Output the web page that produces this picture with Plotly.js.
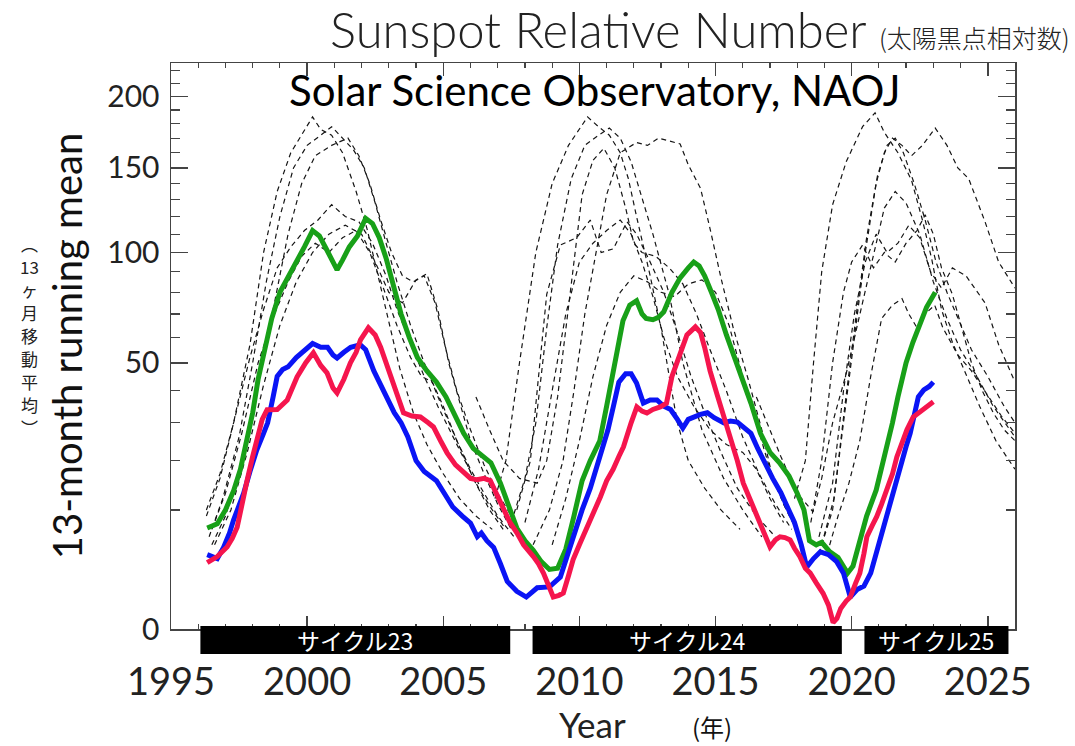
<!DOCTYPE html>
<html><head><meta charset="utf-8">
<script src="https://cdn.plot.ly/plotly-3.0.1.min.js"></script>
<style>html,body{margin:0;padding:0;background:#fff}</style>
</head><body><div id="chart" style="width:1075px;height:746px"></div>
<script>
// ---------- data (13-month running mean sunspot number) ----------
const greenTotal = [[1996.33,7.2],[1996.7,7.8],[1997.0,10],[1997.3,13.5],[1997.55,18],[1997.8,26],[1998.0,33],[1998.2,44],[1998.45,56],[1998.7,68],[1999.0,80],[1999.3,87],[1999.6,95],[1999.9,103],[2000.2,112],[2000.45,109],[2000.7,102],[2000.9,96],[2001.1,91],[2001.3,96],[2001.55,103],[2001.85,109],[2002.15,119],[2002.4,116],[2002.65,108],[2002.9,97],[2003.15,85],[2003.45,70],[2003.75,60],[2004.05,52],[2004.4,47],[2004.75,43],[2005.1,38],[2005.4,33],[2005.75,27],[2006.1,23],[2006.4,21.5],[2006.75,19.5],[2007.1,15],[2007.4,11],[2007.7,7.2],[2008.0,5.5],[2008.3,4.4],[2008.6,3.2],[2008.9,2.5],[2009.2,2.6],[2009.5,4.5],[2009.8,9],[2010.1,15.5],[2010.4,20],[2010.75,25],[2011.0,35],[2011.25,46],[2011.45,58],[2011.6,67],[2011.85,74],[2012.1,76],[2012.3,70],[2012.45,68],[2012.7,67.5],[2012.9,68.5],[2013.1,71],[2013.4,80],[2013.7,87],[2014.0,92],[2014.2,95],[2014.4,93],[2014.6,88],[2014.85,80],[2015.1,72],[2015.4,61],[2015.7,52],[2016.0,44],[2016.3,36],[2016.65,27],[2017.0,22],[2017.35,19.5],[2017.7,16.5],[2018.0,13],[2018.25,10],[2018.45,5.5],[2018.7,5.0],[2018.9,5.3],[2019.2,4.2],[2019.5,3.6],[2019.85,2.2],[2020.05,2.8],[2020.3,5.5],[2020.55,9],[2020.9,13.6],[2021.25,22],[2021.5,30],[2021.7,38],[2022.0,50],[2022.25,58],[2022.5,66],[2022.75,73],[2023.07,80]];
const blueNorth = [[1996.33,3.9],[1996.7,3.5],[1996.93,4.7],[1997.15,6.5],[1997.3,8.4],[1997.5,10.5],[1997.67,13],[1997.9,17.5],[1998.15,22.6],[1998.4,27],[1998.55,30],[1998.75,38],[1998.9,45],[1999.1,47.5],[1999.3,48.5],[1999.6,52],[1999.9,55],[2000.2,57.5],[2000.5,56],[2000.75,56],[2000.95,53],[2001.1,51.8],[2001.35,54],[2001.6,56],[2001.95,57],[2002.15,55],[2002.45,47],[2002.7,42],[2002.95,37],[2003.2,33],[2003.45,30],[2003.7,26],[2004.0,20],[2004.3,17.5],[2004.75,15.5],[2005.05,13],[2005.35,10.5],[2005.7,9],[2006.0,7.9],[2006.25,6.0],[2006.4,6.5],[2006.6,5.5],[2006.85,4.7],[2007.1,3.0],[2007.35,1.6],[2007.7,1.0],[2008.05,0.72],[2008.45,1.2],[2008.9,1.25],[2009.3,1.9],[2009.55,3.8],[2009.8,6.5],[2010.1,10],[2010.4,14],[2010.85,22.6],[2011.05,28],[2011.25,35],[2011.45,43],[2011.7,46],[2011.9,46],[2012.1,42.7],[2012.35,36],[2012.6,37],[2012.85,37],[2013.1,35],[2013.35,34],[2013.6,31],[2013.8,28.5],[2014.0,31],[2014.2,31.7],[2014.45,32.5],[2014.7,33],[2014.95,31.5],[2015.3,30],[2015.55,30.5],[2015.8,30.2],[2016.05,28.5],[2016.3,27],[2016.55,23],[2016.8,19.4],[2017.1,16],[2017.4,13.1],[2017.65,10.5],[2017.9,8],[2018.15,5],[2018.35,2.7],[2018.6,3.5],[2018.85,4.2],[2019.15,3.9],[2019.45,3.2],[2019.7,2.2],[2019.95,0.72],[2020.2,1.1],[2020.45,1.3],[2020.7,2.2],[2020.9,4],[2021.05,6],[2021.25,9],[2021.45,12.5],[2021.75,18.5],[2022.0,23.5],[2022.15,27],[2022.35,34],[2022.45,38],[2022.65,40.3],[2022.85,41.5],[2023.0,43]];
const redSouth = [[1996.33,3.1],[1996.7,3.7],[1997.06,4.75],[1997.25,5.8],[1997.43,7.3],[1997.6,11],[1997.8,15.7],[1998.0,21],[1998.16,26],[1998.35,31],[1998.53,33.9],[1998.9,34],[1999.27,37],[1999.45,41],[1999.63,44.8],[1999.95,50],[2000.23,53.8],[2000.5,49],[2000.73,46.3],[2000.95,41],[2001.1,39.3],[2001.35,44],[2001.59,50],[2001.8,54],[2001.96,59],[2002.25,64],[2002.5,61],[2002.7,56],[2002.9,50],[2003.06,44.8],[2003.3,38],[2003.54,33],[2003.85,32],[2004.16,31.7],[2004.45,30],[2004.64,28.8],[2004.9,25],[2005.14,21.9],[2005.45,19],[2005.74,17.2],[2006.0,16],[2006.24,15.7],[2006.5,16],[2006.73,15.5],[2006.95,13],[2007.2,10.5],[2007.45,8],[2007.71,6.5],[2007.95,5],[2008.31,3.7],[2008.5,3],[2008.68,2.2],[2008.85,1.3],[2009.04,0.72],[2009.25,0.8],[2009.41,0.91],[2009.6,2],[2009.77,3.4],[2010.0,5],[2010.28,7.3],[2010.55,9.5],[2010.77,12.3],[2011.0,15.5],[2011.24,18],[2011.45,21],[2011.62,23.4],[2011.9,30],[2012.11,34.8],[2012.3,33.5],[2012.48,32.9],[2012.7,34],[2012.97,34.8],[2013.2,36],[2013.4,45],[2013.58,50],[2013.8,57],[2013.95,61],[2014.26,64.4],[2014.45,62],[2014.6,56],[2014.8,47],[2015.05,39],[2015.3,32],[2015.54,27],[2015.8,20],[2016.02,15],[2016.3,11.5],[2016.52,9],[2016.75,6.5],[2017.0,4.75],[2017.2,5.6],[2017.37,6],[2017.55,5.9],[2017.74,5.6],[2017.9,4.6],[2018.1,3.7],[2018.3,2.6],[2018.48,2.2],[2018.7,1.5],[2018.95,0.9],[2019.15,0.4],[2019.32,0.03],[2019.46,0.08],[2019.6,0.3],[2019.8,0.55],[2019.95,0.72],[2020.15,1.5],[2020.3,2.2],[2020.45,4],[2020.56,6],[2020.75,7.5],[2020.92,8.9],[2021.1,11],[2021.29,13.6],[2021.5,17],[2021.66,20.9],[2021.85,24.5],[2022.03,28],[2022.26,31.7],[2022.45,32.8],[2022.63,33.9],[2022.8,35],[2023.0,36.4]];

// past cycles overlaid (dashed)
const past23a = [[1996.3,9],[1996.8,16],[1997.3,30],[1997.9,57],[1998.4,100],[1998.9,135],[1999.4,160],[1999.8,172],[2000.2,185],[2000.5,176],[2000.9,172],[2001.3,160],[2001.8,135],[2002.2,113],[2002.6,88],[2003.0,66],[2003.4,48],[2003.9,33],[2004.4,24],[2005.0,17],[2005.6,12],[2006.2,9],[2006.8,7]];
const past23b = [[1996.4,6],[1996.9,12],[1997.5,26],[1998.0,50],[1998.5,85],[1999.0,120],[1999.5,150],[2000.0,165],[2000.5,172],[2000.9,178],[2001.3,170],[2001.7,162],[2002.1,150],[2002.5,128],[2002.9,105],[2003.3,85],[2003.8,65],[2004.3,50],[2004.9,36],[2005.5,25],[2006.1,16],[2006.7,10],[2007.2,7]];
const past23c = [[1996.5,5],[1997.0,9],[1997.6,20],[1998.2,42],[1998.8,75],[1999.3,110],[1999.8,140],[2000.3,158],[2000.9,165],[2001.5,170],[2001.9,158],[2002.3,140],[2002.7,118],[2003.1,100],[2003.5,88],[2003.9,85],[2004.3,88],[2004.7,75],[2005.1,55],[2005.5,40],[2006.0,28],[2006.5,19],[2007.0,13],[2007.5,9]];
const past23d = [[1996.3,10],[1996.8,17],[1997.3,30],[1997.9,52],[1998.4,72],[1998.9,92],[1999.4,103],[1999.9,112],[2000.4,118],[2000.9,127],[2001.4,120],[2001.9,117],[2002.4,105],[2002.9,88],[2003.3,72],[2003.8,58],[2004.3,45],[2004.8,35],[2005.3,27],[2005.8,20],[2006.3,14],[2006.8,10],[2007.3,7]];
const past23e = [[1996.5,7],[1997.0,13],[1997.6,27],[1998.2,50],[1998.8,70],[1999.3,85],[1999.8,98],[2000.3,105],[2000.8,100],[2001.3,108],[2001.8,112],[2002.3,100],[2002.8,82],[2003.3,65],[2003.8,52],[2004.2,45],[2004.6,43],[2005.0,35],[2005.5,25],[2006.0,18],[2006.5,13],[2007.0,9],[2007.6,6]];
const past23f = [[1996.6,5],[1997.2,10],[1997.8,22],[1998.4,42],[1999.0,65],[1999.6,85],[2000.2,100],[2000.8,110],[2001.4,115],[2002.0,110],[2002.5,95],[2003.0,80],[2003.5,75],[2004.0,86],[2004.4,89],[2004.8,72],[2005.2,50],[2005.6,36],[2006.0,25],[2006.5,17],[2007.0,11],[2007.5,7]];
const past24a = [[2006.9,12],[2007.3,20],[2007.8,50],[2008.4,100],[2009.0,140],[2009.6,165],[2010.3,185],[2010.7,178],[2011.1,172],[2011.5,160],[2011.8,143],[2012.1,120],[2012.6,88],[2013.0,64],[2013.3,45],[2013.6,30],[2014.0,20],[2014.6,14],[2015.2,10],[2015.9,7]];
const past24b = [[2007.5,8],[2008.0,16],[2008.4,30],[2008.8,64],[2009.2,104],[2009.7,143],[2010.2,165],[2010.7,172],[2011.1,177],[2011.5,170],[2011.9,154],[2012.35,129],[2012.7,110],[2013.3,79],[2013.8,50],[2014.5,28],[2015.3,16],[2016.0,10],[2016.7,6]];
const past24c = [[2008.3,5],[2008.9,10],[2009.4,20],[2009.8,40],[2010.2,70],[2010.6,100],[2011.0,133],[2011.5,160],[2012.1,167],[2012.5,165],[2012.9,170],[2013.3,168],[2013.7,166],[2014.0,152],[2014.45,137],[2014.8,113],[2015.2,87],[2015.65,64],[2016.2,44],[2016.7,28],[2017.1,16],[2017.6,10],[2018.1,6]];
const past24d = [[2007.7,10],[2008.2,20],[2008.5,45],[2008.8,79],[2009.3,104],[2009.9,108],[2010.4,118],[2010.8,100],[2011.25,102],[2011.75,117],[2012.1,110],[2012.6,95],[2013.1,80],[2013.6,62],[2014.1,45],[2014.6,33],[2015.2,22],[2015.8,14],[2016.5,9],[2017.2,6]];
const past24e = [[2006.2,38],[2006.7,28],[2007.2,20],[2007.8,16],[2008.45,15],[2008.8,20],[2009.2,38],[2009.5,64],[2009.8,95],[2010.1,133],[2010.5,155],[2010.9,163],[2011.3,150],[2011.7,125],[2012.0,105],[2012.3,100],[2012.8,98],[2013.3,92],[2013.8,84],[2014.3,70],[2014.8,55],[2015.4,40],[2016.0,26],[2016.6,17],[2017.2,11],[2017.8,7]];
const past24f = [[2008.0,8],[2008.5,18],[2009.0,40],[2009.5,70],[2010.0,95],[2010.5,105],[2011.0,112],[2011.5,118],[2011.9,110],[2012.3,95],[2012.7,78],[2013.1,60],[2013.6,45],[2014.2,35],[2014.8,28],[2015.4,24],[2016.0,22],[2016.5,18],[2017.0,12],[2017.5,8]];
const past24g = [[2009.0,5],[2009.5,12],[2010.0,25],[2010.5,45],[2011.0,65],[2011.5,80],[2012.0,88],[2012.5,85],[2013.0,80],[2013.5,78],[2014.0,84],[2014.5,86],[2015.0,80],[2015.5,65],[2016.0,45],[2016.5,30],[2017.0,18],[2017.5,11],[2018.0,7]];
const past25a = [[2017.9,12],[2018.3,20],[2018.6,50],[2018.9,90],[2019.3,127],[2019.8,154],[2020.4,178],[2020.86,188],[2021.2,174],[2021.7,160],[2022.2,142],[2022.6,118],[2022.95,96],[2023.3,72],[2023.7,58],[2024.1,48],[2024.7,35],[2025.3,25],[2026.0,18]];
const past25b = [[2018.8,4],[2019.3,10],[2019.7,30],[2020.1,60],[2020.5,100],[2020.9,140],[2021.2,160],[2021.5,170],[2021.85,165],[2022.2,158],[2022.6,165],[2023.07,177],[2023.5,165],[2023.9,150],[2024.3,143],[2024.9,117],[2025.4,95],[2026.0,82]];
const past25c = [[2018.9,5],[2019.35,12],[2019.75,35],[2020.15,68],[2020.55,108],[2020.95,145],[2021.3,165],[2021.6,170],[2021.9,160],[2022.3,140],[2022.7,118],[2023.1,95],[2023.5,80],[2023.9,68],[2024.4,55],[2025.0,45],[2025.6,35],[2026.0,30]];
const past25d = [[2018.5,8],[2018.9,20],[2019.3,50],[2019.7,80],[2020.0,95],[2020.4,104],[2020.8,92],[2021.2,100],[2021.6,95],[2022.0,105],[2022.4,112],[2022.7,121],[2023.0,110],[2023.3,92],[2023.7,79],[2024.1,62],[2024.4,50],[2024.8,40],[2025.2,33],[2025.6,28],[2026.0,25]];
const past25e = [[2018.8,6],[2019.3,15],[2019.7,40],[2020.1,70],[2020.5,95],[2020.9,110],[2021.3,100],[2021.7,105],[2022.1,115],[2022.5,108],[2022.9,90],[2023.3,82],[2023.7,92],[2024.2,88],[2024.9,75],[2025.4,57],[2026.0,43]];
const past25f = [[2019.1,4],[2019.5,9],[2019.9,15],[2020.3,25],[2020.7,45],[2021.1,68],[2021.5,74],[2021.85,77],[2022.1,70],[2022.4,64],[2022.7,70],[2023.05,74],[2023.35,64],[2023.9,53],[2024.4,47],[2024.9,40],[2025.5,32],[2026.0,27]];
const past25g = [[2016.5,38],[2017.0,28],[2017.4,21],[2018.0,13],[2018.58,9.7],[2018.9,16],[2019.3,30],[2019.8,46],[2020.3,70],[2020.8,100],[2021.2,125],[2021.6,135],[2022.0,128],[2022.5,110],[2023.0,85],[2023.5,68],[2024.0,55],[2024.6,45],[2025.2,35],[2026.0,26]];

const cycleNames = ['サイクル23','サイクル24','サイクル25'];
const cycleStart = [1996.08, 2008.28, 2020.47];
const cycleEnd = [2007.46, 2019.64, 2025.76];

const xTickVals = [1995, 2000, 2005, 2010, 2015, 2020, 2025];
const yTickVals = [0, 50, 100, 150, 200];
const yTickText = ['0', '50', '100', '150', '200'];
const yMinorVals = [10,20,30,40,60,70,80,90,110,120,130,140,160,170,180,190,210,220];
const yLabelJa = ['︵','13','ヶ','月','移','動','平','均','︶'];

// ---------- build ----------
const sq = v => Math.sqrt(Math.max(v, 0));   // square-root scale of the original axis
const pastSets = [past23a,past23b,past23c,past23d,past23e,past23f,past24a,past24b,past24c,past24d,past24e,past24f,past24g,past25a,past25b,past25c,past25d,past25e,past25f,past25g];

const traces = [];
pastSets.forEach(s => traces.push({
  type: 'scatter', mode: 'lines', x: s.map(p => p[0]), y: s.map(p => sq(p[1])),
  line: {color: '#151515', width: 1.2, dash: '5px,4px'}, hoverinfo: 'skip'
}));
[[greenTotal, '#18a018'], [blueNorth, '#0a14f5'], [redSouth, '#f5154d']].forEach(([s, c]) => traces.push({
  type: 'scatter', mode: 'lines', x: s.map(p => p[0]), y: s.map(p => sq(p[1])),
  line: {color: c, width: 5}, hoverinfo: 'skip'
}));

const shapes = cycleStart.map((s, i) => ({
  type: 'rect', xref: 'x', yref: 'paper', x0: s, x1: cycleEnd[i], y0: -0.0442, y1: 0.0053,
  fillcolor: '#000', line: {width: 0}, layer: 'above'
}));

const annotations = cycleNames.map((n, i) => ({
  text: n, xref: 'x', yref: 'paper', x: (cycleStart[i] + cycleEnd[i]) / 2, y: -0.0195,
  xanchor: 'center', yanchor: 'middle', showarrow: false,
  font: {family: 'Noto Sans CJK JP', size: 23, color: '#fff'}
}));
annotations.push({
  text: 'Solar Science Observatory, NAOJ', xref: 'paper', yref: 'paper', x: 0.502, y: 0.953,
  xanchor: 'center', yanchor: 'middle', showarrow: false,
  font: {family: 'Lato, Liberation Sans, sans-serif', size: 42, color: '#000'}
});
annotations.push({
  text: 'Year', xref: 'paper', yref: 'paper', x: (592 - 171) / 844, y: 1 - (724 - 63) / 566,
  xanchor: 'center', yanchor: 'middle', showarrow: false,
  font: {family: 'Lato, sans-serif', size: 35, color: '#222'}
});
annotations.push({
  text: '(年)', xref: 'paper', yref: 'paper', x: (712 - 171) / 844, y: 1 - (727 - 63) / 566,
  xanchor: 'center', yanchor: 'middle', showarrow: false,
  font: {family: 'Noto Sans CJK JP', size: 24, color: '#111'}
});
// vertical Japanese label, one glyph per row
const jaRows = [243, 266, 289, 312, 335, 358, 381, 404, 427];
yLabelJa.forEach((ch, i) => annotations.push({
  text: ch, xref: 'paper', yref: 'paper', x: (29 - 171) / 844, y: 1 - (jaRows[i] - 63) / 566,
  xanchor: 'center', yanchor: 'middle', showarrow: false,
  font: {family: 'Noto Sans CJK JP', size: 17, color: '#222'}
}));

const axisCol = '#444';
const layout = {
  width: 1075, height: 746, autosize: false,
  margin: {l: 171, r: 60, t: 63, b: 117},
  paper_bgcolor: '#fff', plot_bgcolor: '#fff', showlegend: false,
  title: {
    text: 'Sunspot Relative Number&#160;<span style="font-size:25px;font-family:Noto Sans CJK JP">(太陽黒点相対数)</span>',
    xref: 'container', yref: 'container', x: 330 / 1075, xanchor: 'left', y: 1 - 31 / 746, yanchor: 'middle',
    font: {family: 'Lato, Liberation Sans, sans-serif', size: 49, color: '#222', weight: 300}
  },
  xaxis: {
    range: [1995, 2026], tickmode: 'array', tickvals: xTickVals, ticktext: xTickVals.map(String),
    ticks: 'inside', ticklen: 13, tickwidth: 1.5, tickcolor: axisCol,
    minor: {dtick: 1, tick0: 1995, ticks: 'inside', ticklen: 5, tickwidth: 1.2, tickcolor: axisCol},
    showline: true, linecolor: axisCol, linewidth: 1.5, mirror: 'ticks',
    showgrid: false, zeroline: false, ticklabelstandoff: 19,
    tickfont: {family: 'Lato, sans-serif', size: 38, color: '#222'}
  },
  yaxis: {
    range: [0, Math.sqrt(226)], tickmode: 'array', tickvals: yTickVals.map(sq), ticktext: yTickText,
    ticks: 'inside', ticklen: 17, tickwidth: 1.5, tickcolor: axisCol,
    minor: {tickmode: 'array', tickvals: yMinorVals.map(sq), ticks: 'inside', ticklen: 9, tickwidth: 1.2, tickcolor: axisCol},
    showline: true, linecolor: axisCol, linewidth: 1.5, mirror: 'ticks',
    showgrid: false, zeroline: false, ticklabelstandoff: 4,
    tickfont: {family: 'Lato, Liberation Sans, sans-serif', size: 30, color: '#222'},
    title: {text: '13-month running mean', standoff: 12, font: {family: 'Lato, Liberation Sans, sans-serif', size: 40, color: '#111'}}
  },
  shapes: shapes,
  annotations: annotations
};

Plotly.newPlot('chart', traces, layout, {staticPlot: true, displayModeBar: false});
</script></body></html>
